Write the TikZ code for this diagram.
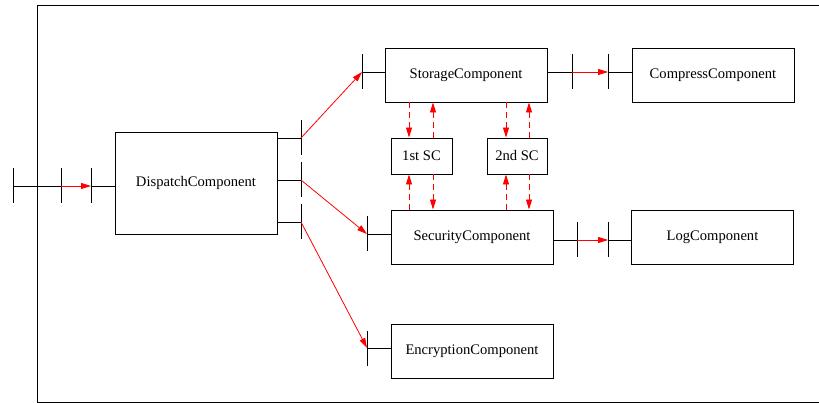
\documentclass[tikz,border=0pt]{standalone}
\usepackage{fontspec}
\setmainfont{Liberation Serif}
\usetikzlibrary{arrows.meta}
\begin{document}
\begin{tikzpicture}[x=1pt,y=-1pt,line width=0.9pt,
  comp/.style={draw,minimum width=162pt,minimum height=54pt,inner sep=0pt,font=\fontsize{14.6}{16}\selectfont},
  scbox/.style={draw,minimum width=61pt,minimum height=36pt,inner sep=0pt,font=\fontsize{14.6}{16}\selectfont},
  redarr/.style={red,-{Triangle[length=10pt,width=6pt]}},
  dasharr/.style={red,dash pattern=on 6pt off 4pt,-{Triangle[length=10pt,width=6pt]}}]
\useasboundingbox (0,0) rectangle (819,403);
% frame
\draw (821,5.5) -- (37,5.5) -- (37,402) -- (821,402);
% components
\node[comp,minimum height=102pt] (disp) at (196,183) {DispatchComponent};
\node[comp] (stor) at (466,75) {StorageComponent};
\node[comp] (compr) at (713,75) {CompressComponent};
\node[comp] (sec) at (472,237) {\raisebox{-2pt}{SecurityComponent}};
\node[comp] (logc) at (712.5,237) {\raisebox{-2pt}{LogComponent}};
\node[comp] (enc) at (472,351) {EncryptionComponent};
\node[scbox] (sc1) at (421.5,156) {1st SC};
\node[scbox,minimum width=60pt] (sc2) at (517,156) {2nd SC};
% port coordinates
\coordinate (in0) at (13,186);
\coordinate (in1) at (61,186);
\coordinate (in2) at (91,186);
\coordinate (d1) at (301,138);
\coordinate (d2) at (301,180);
\coordinate (d3) at (301,222);
\coordinate (sp) at (362,72);
\coordinate (secp) at (367,234);
\coordinate (encp) at (367,348);
\coordinate (so) at (572,72);
\coordinate (ci) at (608,72);
\coordinate (seco) at (577,240);
\coordinate (li) at (608,240);
% ticks
\foreach \p in {in0,in1,in2,d1,d2,d3,sp,secp,encp,so,ci,seco,li}
  \draw (\p) ++(0,-17.5) -- ++(0,35);
% input
\draw (in0) -- (in1);
\draw[redarr] (in1) -- (in2);
\draw (in2) -- (disp.west |- in2);
% dispatch outputs
\draw (disp.east |- d1) -- (d1);
\draw (disp.east |- d2) -- (d2);
\draw (disp.east |- d3) -- (d3);
\draw[redarr,line width=0.8pt] (d1) -- (sp);
\draw[redarr,line width=0.8pt] (d2) -- (secp);
\draw[redarr,line width=0.8pt] (d3) -- (encp);
\draw (sp) -- (stor.west |- sp);
\draw (secp) -- (sec.west |- secp);
\draw (encp) -- (enc.west |- encp);
% storage -> compress
\draw (stor.east |- so) -- (so);
\draw[redarr] (so) -- (ci);
\draw (ci) -- (compr.west |- ci);
% security -> log
\draw (sec.east |- seco) -- (seco);
\draw[redarr] (seco) -- (li);
\draw (li) -- (logc.west |- li);
% dashed links
\coordinate (xa) at (409,0);
\coordinate (xb) at (433,0);
\coordinate (xc) at (506,0);
\coordinate (xd) at (529,0);
\draw[dasharr,line width=0.8pt] (stor.south -| xa) -- (sc1.north -| xa);
\draw[dasharr,line width=0.8pt] (sc1.north -| xb) -- (stor.south -| xb);
\draw[dasharr,line width=0.8pt] (stor.south -| xc) -- (sc2.north -| xc);
\draw[dasharr,line width=0.8pt] (sc2.north -| xd) -- (stor.south -| xd);
\draw[dasharr,line width=0.8pt] (sec.north -| xa) -- (sc1.south -| xa);
\draw[dasharr,line width=0.8pt] (sc1.south -| xb) -- (sec.north -| xb);
\draw[dasharr,line width=0.8pt] (sec.north -| xc) -- (sc2.south -| xc);
\draw[dasharr,line width=0.8pt] (sc2.south -| xd) -- (sec.north -| xd);
\end{tikzpicture}
\end{document}
